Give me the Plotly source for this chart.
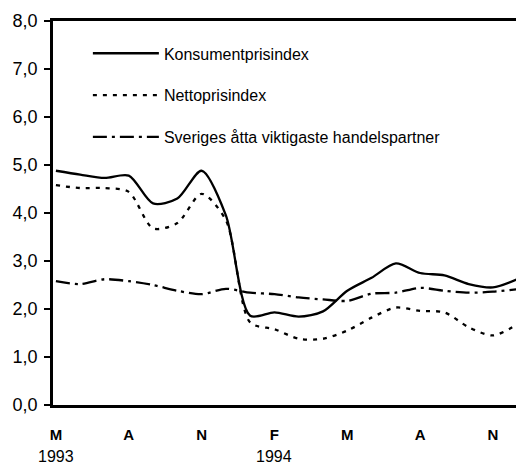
import plotly.graph_objects as go

# Months from May 1993 (index 0) to Dec 1994 (index 19)
months = list(range(20))
kpi = [4.88, 4.80, 4.73, 4.78, 4.20, 4.30, 4.88, 3.95, 1.86, 1.93,
       1.84, 1.95, 2.38, 2.65, 2.95, 2.75, 2.70, 2.52, 2.45, 2.62]
netto = [4.58, 4.52, 4.52, 4.44, 3.68, 3.79, 4.40, 3.85, 1.72, 1.58,
         1.38, 1.38, 1.55, 1.82, 2.03, 1.96, 1.93, 1.62, 1.45, 1.68]
partner = [2.58, 2.52, 2.62, 2.58, 2.50, 2.38, 2.31, 2.42, 2.34, 2.31,
           2.24, 2.20, 2.17, 2.32, 2.34, 2.44, 2.38, 2.34, 2.36, 2.41]

tick_pos = [0, 3, 6, 9, 12, 15, 18]
tick_text = ["M", "A", "N", "F", "M", "A", "N"]
year_pos = [0, 9]
year_text = ["1993", "1994"]
y_ticks = [0, 1, 2, 3, 4, 5, 6, 7, 8]

names = ["Konsumentprisindex", "Nettoprisindex",
         "Sveriges åtta viktigaste handelspartner"]
series = [kpi, netto, partner]
dashes = ["solid", "4px,6px", "14px,5px,3px,5px"]

fig = go.Figure()
for i, (nm, ys, d) in enumerate(zip(names, series, dashes)):
    fig.add_trace(go.Scatter(
        x=months, y=ys, name=nm, mode="lines",
        line=dict(color="black", width=2.3, dash=d, shape="spline", smoothing=0.8),
        legendgroup=f"g{i}",
    ))

for xp, yt in zip(year_pos, year_text):
    fig.add_annotation(x=xp, y=-0.133, xref="x", yref="paper", text=yt,
                       showarrow=False, font=dict(size=16, color="black"),
                       yanchor="middle")

# page body has an 8px margin, so the figure is sized to fit the 524x467 window
fig.update_layout(
    width=516, height=459,
    margin=dict(l=45, r=3, t=10, b=62),
    paper_bgcolor="white", plot_bgcolor="white",
    separators=", ",
    font=dict(family="Liberation Sans, Arial, sans-serif", color="black"),
    showlegend=True,
    legend=dict(x=0.075, y=0.96, xanchor="left", yanchor="top",
                bgcolor="rgba(0,0,0,0)", borderwidth=0,
                font=dict(size=16, color="black"),
                itemwidth=66, tracegroupgap=18),
    xaxis=dict(range=[-0.12, 19.03], tickmode="array", tickvals=tick_pos,
               ticktext=tick_text, showgrid=False, zeroline=False,
               showline=True, linecolor="black", linewidth=2.5, mirror=True,
               ticks="", ticklabelstandoff=14,
               tickfont=dict(size=15, color="black", weight="bold")),
    yaxis=dict(range=[0, 8], tickmode="array", tickvals=y_ticks,
               tickformat=".1f", showgrid=False, zeroline=False,
               showline=True, linecolor="black", linewidth=2.5, mirror=True,
               ticks="outside", ticklen=6, tickwidth=2, tickcolor="black",
               ticklabelstandoff=3,
               tickfont=dict(size=18, color="black")),
)

fig.write_html("out.html")
